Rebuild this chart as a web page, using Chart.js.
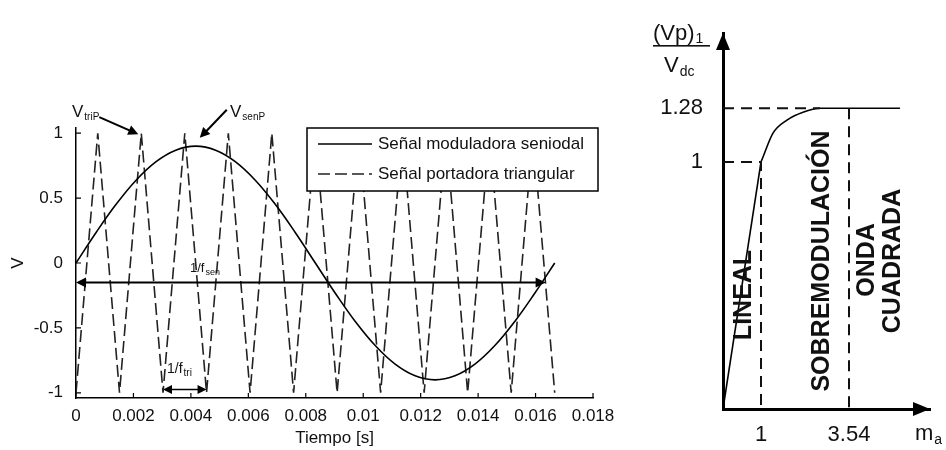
<!DOCTYPE html>
<html>
<head>
<meta charset="utf-8">
<script src="https://cdn.jsdelivr.net/npm/chart.js@4/dist/chart.umd.min.js"></script>
<style>
  html, body { margin: 0; padding: 0; background: #fff; }
  #wrap { position: relative; width: 946px; height: 450px; overflow: hidden; }
  #pwm { position: absolute; left: 0; top: 0; }
  #gain { position: absolute; left: 620px; top: 0; }
</style>
</head>
<body>
<div id="wrap">
  <canvas id="pwm" width="620" height="450"></canvas>
  <canvas id="gain" width="326" height="450"></canvas>
</div>
<script>
// ---------- Sinusoidal PWM: modulating sine (60 Hz) and triangular carrier ----------
const sineTime  = [0, 0.000694, 0.001389, 0.002083, 0.002778, 0.003472, 0.004167, 0.004861,
                   0.005556, 0.00625, 0.006944, 0.007639, 0.008333, 0.009028, 0.009722, 0.010417,
                   0.011111, 0.011806, 0.0125, 0.013194, 0.013889, 0.014583, 0.015278, 0.015972, 0.016667];
const sineValue = [0, 0.233, 0.45, 0.636, 0.779, 0.869, 0.9, 0.869,
                   0.779, 0.636, 0.45, 0.233, 0, -0.233, -0.45, -0.636,
                   -0.779, -0.869, -0.9, -0.869, -0.779, -0.636, -0.45, -0.233, 0];

const triTime  = [0, 0.000758, 0.001515, 0.002273, 0.00303, 0.003788, 0.004545, 0.005303,
                  0.006061, 0.006818, 0.007576, 0.008333, 0.009091, 0.009848, 0.010606, 0.011364,
                  0.012121, 0.012879, 0.013636, 0.014394, 0.015152, 0.015909, 0.016667];
const triValue = [-1, 1, -1, 1, -1, 1, -1, 1,
                  -1, 1, -1, 1, -1, 1, -1, 1,
                  -1, 1, -1, 1, -1, 1, -1];

const timeTicks      = [0, 0.002, 0.004, 0.006, 0.008, 0.01, 0.012, 0.014, 0.016, 0.018];
const timeTickLabels = ['0', '0.002', '0.004', '0.006', '0.008', '0.01', '0.012', '0.014', '0.016', '0.018'];
const voltTicks      = [-1, -0.5, 0, 0.5, 1];
const voltTickLabels = ['-1', '-0.5', '0', '0.5', '1'];

// period markers and peak call-outs (time, voltage)
const sinePeriodSpan    = [0, 0.01635];
const sinePeriodLevel   = -0.15;
const carrierPeriodSpan = [0.00303, 0.004545];
const carrierPeriodLevel = -0.975;
const carrierPeak = [0.002273, 1];
const sinePeak    = [0.00431, 0.965];

// ---------- Fundamental output vs modulation index ----------
const linearMa   = [0, 1];
const linearGain = [0, 1];
const overMa     = [1, 1.058, 1.346, 1.75, 2.212, 2.7, 4.46];
const overGain   = [1, 1.026, 1.15, 1.218, 1.259, 1.28, 1.28];
const maTicks    = [1, 3.54];
const gainTicks  = [1, 1.28];
const maTickLabels   = ['1', '3.54'];
const gainTickLabels = ['1', '1.28'];

const FONT = "'Liberation Sans', Arial, sans-serif";

// Linear scale whose value-to-pixel mapping is piecewise linear between break points
class PiecewiseScale extends Chart.LinearScale {
  _toDecimal(value) {
    const v = this.options.breakValues, f = this.options.breakFractions;
    if (value <= v[0]) return f[0];
    for (let i = 1; i < v.length; i++) {
      if (value <= v[i]) return f[i - 1] + (value - v[i - 1]) / (v[i] - v[i - 1]) * (f[i] - f[i - 1]);
    }
    const n = v.length - 1;
    return f[n] + (value - v[n]) / (v[n] - v[n - 1]) * (f[n] - f[n - 1]);
  }
  getPixelForValue(value) {
    return this.getPixelForDecimal(this._toDecimal(value));
  }
  getValueForPixel(pixel) {
    const d = this.getDecimalForPixel(pixel);
    const v = this.options.breakValues, f = this.options.breakFractions;
    for (let i = 1; i < v.length; i++) {
      if (d <= f[i]) return v[i - 1] + (d - f[i - 1]) / (f[i] - f[i - 1]) * (v[i] - v[i - 1]);
    }
    return v[v.length - 1];
  }
}
PiecewiseScale.id = 'piecewise';
PiecewiseScale.defaults = Chart.LinearScale.defaults;
Chart.register(PiecewiseScale);

function pts(xs, ys) { return xs.map((x, i) => ({ x, y: ys[i] })); }

function arrowHead(ctx, x, y, angle, len, half) {
  ctx.save();
  ctx.translate(x, y);
  ctx.rotate(angle);
  ctx.beginPath();
  ctx.moveTo(0, 0);
  ctx.lineTo(-len, -half);
  ctx.lineTo(-len, half);
  ctx.closePath();
  ctx.fill();
  ctx.restore();
}

function subText(ctx, x, y, main, sub, size, subSize, drop) {
  ctx.font = size + 'px ' + FONT;
  ctx.fillText(main, x, y);
  const w = ctx.measureText(main).width;
  ctx.font = subSize + 'px ' + FONT;
  ctx.fillText(sub, x + w + 1, y + drop);
}

// ---------- decorations of the PWM chart ----------
const pwmDecor = {
  id: 'pwmDecor',
  afterDraw(chart) {
    const { ctx, chartArea: a, scales: { x, y } } = chart;
    ctx.save();
    ctx.strokeStyle = '#000';
    ctx.fillStyle = '#000';

    // inward tick marks
    ctx.lineWidth = 1.2;
    ctx.beginPath();
    timeTicks.forEach(t => { const px = x.getPixelForValue(t); ctx.moveTo(px, a.bottom); ctx.lineTo(px, a.bottom - 5); });
    voltTicks.forEach(v => { const py = y.getPixelForValue(v); ctx.moveTo(a.left, py); ctx.lineTo(a.left + 5, py); });
    ctx.stroke();

    // period of the sine: double arrow
    const sy = y.getPixelForValue(sinePeriodLevel);
    const sx0 = x.getPixelForValue(sinePeriodSpan[0]), sx1 = x.getPixelForValue(sinePeriodSpan[1]);
    ctx.lineWidth = 2;
    ctx.beginPath(); ctx.moveTo(sx0 + 4, sy); ctx.lineTo(sx1 - 4, sy); ctx.stroke();
    arrowHead(ctx, sx0, sy, Math.PI, 10, 5);
    arrowHead(ctx, sx1, sy, 0, 10, 5);

    // period of the carrier: double arrow
    const cy = y.getPixelForValue(carrierPeriodLevel);
    const cx0 = x.getPixelForValue(carrierPeriodSpan[0]), cx1 = x.getPixelForValue(carrierPeriodSpan[1]);
    ctx.lineWidth = 1.5;
    ctx.beginPath(); ctx.moveTo(cx0 + 4, cy); ctx.lineTo(cx1 - 4, cy); ctx.stroke();
    arrowHead(ctx, cx0, cy, Math.PI, 9, 4.5);
    arrowHead(ctx, cx1, cy, 0, 9, 4.5);

    // peak call-outs
    const tp = [x.getPixelForValue(carrierPeak[0]) - 3, y.getPixelForValue(carrierPeak[1]) + 1];
    const tTail = [tp[0] - 39, tp[1] - 17];
    ctx.lineWidth = 2;
    ctx.beginPath(); ctx.moveTo(tTail[0], tTail[1]); ctx.lineTo(tp[0] - 6, tp[1] - 2.6); ctx.stroke();
    arrowHead(ctx, tp[0], tp[1], Math.atan2(tp[1] - tTail[1], tp[0] - tTail[0]), 10, 5);

    const sp = [x.getPixelForValue(sinePeak[0]), y.getPixelForValue(sinePeak[1])];
    const sTail = [sp[0] + 27, sp[1] - 28];
    ctx.beginPath(); ctx.moveTo(sTail[0], sTail[1]); ctx.lineTo(sp[0] + 5, sp[1] - 5); ctx.stroke();
    arrowHead(ctx, sp[0], sp[1], Math.atan2(sp[1] - sTail[1], sp[0] - sTail[0]), 10, 5);

    ctx.fillStyle = '#111';
    ctx.textBaseline = 'alphabetic';
    ctx.textAlign = 'left';
    subText(ctx, 72, 117, 'V', 'triP', 17, 10, 3);
    subText(ctx, 230, 117, 'V', 'senP', 17, 10, 3);
    subText(ctx, 190, 272, '1/f', 'sen', 13, 9, 3);
    subText(ctx, 167, 373, '1/f', 'tri', 14, 10, 3);

    // legend
    const L = { left: 307, top: 128, right: 598, bottom: 191 };
    ctx.fillStyle = '#fff';
    ctx.fillRect(L.left, L.top, L.right - L.left, L.bottom - L.top);
    ctx.lineWidth = 1.5;
    ctx.strokeStyle = '#000';
    ctx.strokeRect(L.left, L.top, L.right - L.left, L.bottom - L.top);
    const rows = [144, 174];
    chart.data.datasets.forEach((ds, i) => {
      ctx.save();
      ctx.strokeStyle = ds.borderColor;
      ctx.lineWidth = ds.borderWidth;
      ctx.setLineDash(ds.borderDash || []);
      ctx.beginPath(); ctx.moveTo(318, rows[i]); ctx.lineTo(372, rows[i]); ctx.stroke();
      ctx.restore();
      ctx.fillStyle = '#111';
      ctx.font = '17px ' + FONT;
      ctx.textBaseline = 'middle';
      ctx.fillText(ds.label, 378, rows[i]);
    });
    ctx.restore();
  }
};

new Chart(document.getElementById('pwm'), {
  type: 'line',
  data: {
    datasets: [
      {
        label: 'Señal moduladora seniodal',
        data: pts(sineTime, sineValue),
        borderColor: '#000',
        borderWidth: 1.6,
        tension: 0.4,
        pointRadius: 0,
        fill: false
      },
      {
        label: 'Señal portadora triangular',
        data: pts(triTime, triValue),
        borderColor: '#222',
        borderWidth: 1.6,
        borderDash: [12, 5],
        tension: 0,
        pointRadius: 0,
        fill: false
      }
    ]
  },
  options: {
    responsive: false,
    animation: false,
    devicePixelRatio: 1,
    layout: { padding: { top: 128, right: 27, left: 0, bottom: 0 } },
    plugins: { legend: { display: false }, tooltip: { enabled: false } },
    scales: {
      x: {
        type: 'linear',
        min: 0, max: 0.018,
        grid: { display: false },
        border: { display: true, color: '#000', width: 1.5 },
        afterBuildTicks: s => { s.ticks = timeTicks.map(v => ({ value: v })); },
        afterFit: s => { s.height = 52; },
        ticks: {
          color: '#111', font: { family: FONT, size: 17 }, padding: 0, maxRotation: 0,
          callback: (v, i) => timeTickLabels[i]
        },
        title: { display: true, text: 'Tiempo [s]', color: '#111', font: { family: FONT, size: 17 }, padding: { bottom: 1, top: 0 } }
      },
      y: {
        type: 'linear',
        min: -1.04, max: 1.04,
        grid: { display: false },
        border: { display: true, color: '#000', width: 1.5 },
        afterBuildTicks: s => { s.ticks = voltTicks.map(v => ({ value: v })); },
        afterFit: s => { s.width = 76; },
        ticks: {
          color: '#111', font: { family: FONT, size: 17 }, padding: 5,
          callback: (v, i) => voltTickLabels[i]
        },
        title: { display: true, text: 'V', color: '#111', font: { family: FONT, size: 17 }, padding: { top: 8, bottom: 0 } }
      }
    }
  },
  plugins: [pwmDecor]
});

// ---------- decorations of the modulation-index chart ----------
const gainDecor = {
  id: 'gainDecor',
  afterDraw(chart) {
    const { ctx, chartArea: a } = chart;
    ctx.save();
    ctx.fillStyle = '#000';
    // axis arrow heads
    arrowHead(ctx, a.left, a.top, -Math.PI / 2, 17, 7);
    arrowHead(ctx, a.right, a.bottom, 0, 17, 7);

    ctx.fillStyle = '#111';
    ctx.textBaseline = 'alphabetic';
    ctx.textAlign = 'left';
    // y-axis quantity as a fraction
    subText(ctx, 33, 40, '(Vp)', '1', 22, 14, 3);
    ctx.fillRect(33, 45, 57, 1.6);
    subText(ctx, 44, 72, 'V', 'dc', 22, 14, 4);
    // x-axis quantity
    subText(ctx, 295, 440, 'm', 'a', 22, 14, 4);

    // operating regions, written vertically
    ctx.font = 'bold 25px ' + FONT;
    ctx.textAlign = 'center';
    ctx.textBaseline = 'middle';
    [['LINEAL', 124, 295], ['SOBREMODULACIÓN', 202, 261], ['ONDA', 247, 260], ['CUADRADA', 273, 261]]
      .forEach(([t, cx, cy]) => {
        ctx.save();
        ctx.translate(cx, cy);
        ctx.rotate(-Math.PI / 2);
        ctx.fillText(t, 0, 0);
        ctx.restore();
      });
    ctx.restore();
  }
};

const guide = (xs, ys) => ({
  data: pts(xs, ys),
  borderColor: '#111',
  borderWidth: 2,
  borderDash: [11, 7],
  pointRadius: 0,
  tension: 0,
  fill: false
});

new Chart(document.getElementById('gain'), {
  type: 'line',
  data: {
    datasets: [
      guide([0, 1, 1], [1, 1, 0]),
      guide([0, overMa[5]], [1.28, 1.28]),
      guide([3.54, 3.54], [1.28, 0]),
      {
        data: pts(linearMa, linearGain),
        borderColor: '#000', borderWidth: 1.6, pointRadius: 0, tension: 0, fill: false
      },
      {
        data: pts(overMa, overGain),
        borderColor: '#000', borderWidth: 1.6, pointRadius: 0,
        cubicInterpolationMode: 'monotone', fill: false
      }
    ]
  },
  options: {
    responsive: false,
    animation: false,
    devicePixelRatio: 1,
    layout: { padding: { top: 33, right: 16, left: 0, bottom: 0 } },
    plugins: { legend: { display: false }, tooltip: { enabled: false } },
    scales: {
      x: {
        type: 'piecewise',
        min: 0, max: 5,
        breakValues: [0, 1, 3.54, 5],
        breakFractions: [0, 0.1836, 0.6087, 1],
        grid: { display: false },
        border: { display: true, color: '#000', width: 3 },
        afterBuildTicks: s => { s.ticks = maTicks.map(v => ({ value: v })); },
        afterFit: s => { s.height = 41; },
        ticks: {
          color: '#111', font: { family: FONT, size: 22 }, padding: 5, maxRotation: 0,
          callback: (v, i) => maTickLabels[i]
        }
      },
      y: {
        type: 'piecewise',
        min: 0, max: 1.6,
        breakValues: [0, 1, 1.28, 1.6],
        breakFractions: [0, 0.657, 0.8, 1],
        grid: { display: false },
        border: { display: true, color: '#000', width: 3 },
        afterBuildTicks: s => { s.ticks = gainTicks.map(v => ({ value: v })); },
        afterFit: s => { s.width = 103; },
        ticks: {
          color: '#111', font: { family: FONT, size: 22 }, padding: 12,
          callback: (v, i) => gainTickLabels[i]
        }
      }
    }
  },
  plugins: [gainDecor]
});
</script>
</body>
</html>
